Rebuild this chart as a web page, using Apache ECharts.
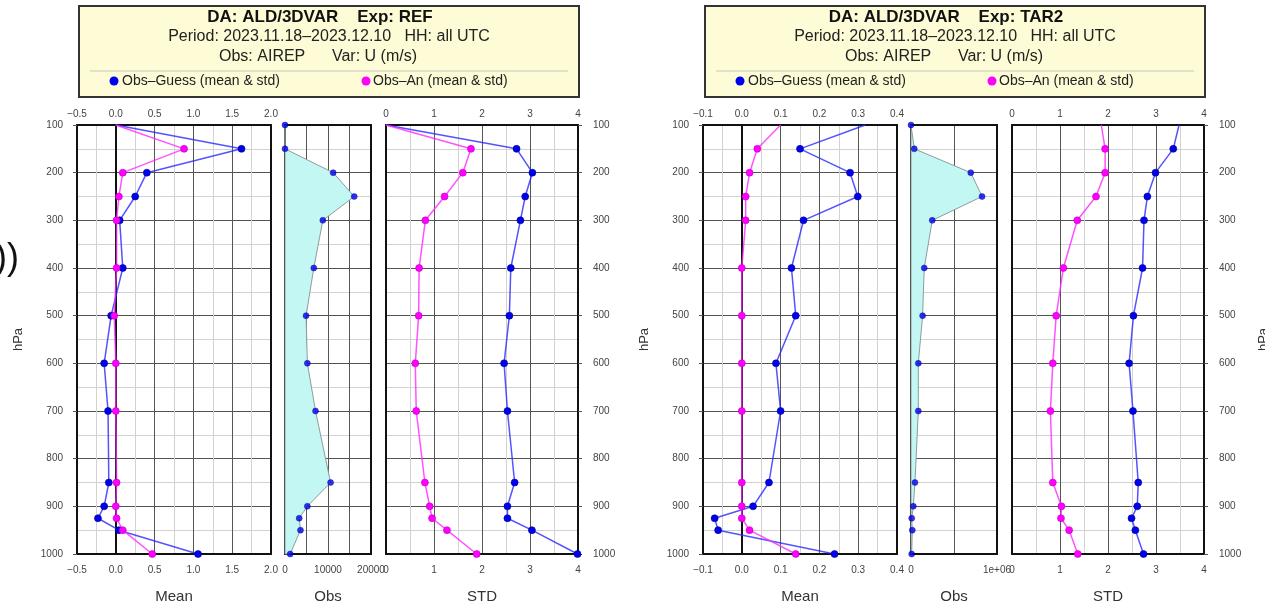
<!DOCTYPE html>
<html>
<head>
<meta charset="utf-8">
<script src="https://cdn.jsdelivr.net/npm/echarts@6/dist/echarts.min.js"></script>
<style>
  html, body { margin: 0; padding: 0; background: #ffffff; }
  #chart { width: 1265px; height: 603px; }
</style>
</head>
<body>
<div id="chart"></div>
<script>
// Pressure levels (hPa) of the vertical profiles
const levels = [100, 150, 200, 250, 300, 400, 500, 600, 700, 850, 900, 925, 950, 1000];

// Experiment REF
const refMeanGuess = [0, 1.62, 0.40, 0.25, 0.05, 0.09, -0.06, -0.15, -0.10, -0.09, -0.15, -0.23, 0.04, 1.06];
const refMeanAn    = [0, 0.88, 0.09, 0.04, 0.01, 0.01, -0.02, 0.00, 0.00, 0.01, 0.00, 0.01, 0.09, 0.47];
const refObs       = [0, 0, 11200, 16100, 8800, 6700, 4900, 5200, 7100, 10600, 5200, 3300, 3600, 1200];
const refStdGuess  = [0, 2.72, 3.05, 2.90, 2.80, 2.60, 2.57, 2.46, 2.53, 2.68, 2.53, 2.53, 3.04, 3.99];
const refStdAn     = [0, 1.77, 1.60, 1.22, 0.82, 0.69, 0.68, 0.61, 0.63, 0.81, 0.91, 0.96, 1.27, 1.89];

// Experiment TAR2
const tarMeanGuess = [0.318, 0.150, 0.279, 0.299, 0.159, 0.128, 0.139, 0.088, 0.100, 0.070, 0.029, -0.070, -0.061, 0.239];
const tarMeanAn    = [0.100, 0.040, 0.020, 0.010, 0.010, 0.000, 0.000, 0.000, 0.000, 0.000, 0.000, 0.000, 0.020, 0.139];
const tarObs       = [0, 38000, 695000, 826000, 247000, 154000, 135000, 85000, 85000, 46000, 27000, 8000, 15000, 8000];
const tarStdGuess  = [3.48, 3.36, 2.99, 2.82, 2.75, 2.72, 2.53, 2.44, 2.52, 2.63, 2.61, 2.49, 2.57, 2.74];
const tarStdAn     = [1.86, 1.94, 1.94, 1.75, 1.36, 1.07, 0.92, 0.85, 0.80, 0.85, 1.03, 1.02, 1.19, 1.37];

// Axis ranges [min, max, step]
const meanRangeRef = [-0.5, 2.0, 0.5];
const meanRangeTar = [-0.1, 0.4, 0.1];
const obsRangeRef  = [0, 20000, 5000];
const obsRangeTar  = [0, 1000000, 500000];
const stdRange     = [0, 4, 1];

const titleLines = {
  ref: ['DA: ALD/3DVAR    Exp: REF', 'Period: 2023.11.18\u20132023.12.10   HH: all UTC', 'Obs: AIREP      Var: U (m/s)'],
  tar: ['DA: ALD/3DVAR    Exp: TAR2', 'Period: 2023.11.18\u20132023.12.10   HH: all UTC', 'Obs: AIREP      Var: U (m/s)']
};
const legendNames = ['Obs\u2013Guess (mean & std)', 'Obs\u2013An (mean & std)'];

const FONT = '"Liberation Sans", Arial, Helvetica, sans-serif';
const BLUE = '#0000f0', BLUE_LINE = 'rgba(40,40,255,0.8)';
const MAG = '#ff00ff', MAG_LINE = 'rgba(255,40,255,0.8)';
const MAJOR = '#555555', MINOR = '#d2d2d2', FRAME = '#111111';
const LABEL = '#444444';

const chart = echarts.init(document.getElementById('chart'), null, { renderer: 'canvas' });

const grids = [], xAxes = [], yAxes = [], series = [];

function fmtMinus(s) { return s.replace('-', '\u2212'); }

function addPanel(opts) {
  const g = grids.length;
  grids.push({ left: opts.left, top: 125, width: opts.width, height: 429,
               containLabel: false, outerBoundsMode: 'none' });
  const [xmin, xmax, step] = opts.range;
  const xb = xAxes.length;
  xAxes.push({
    gridIndex: g, type: 'value', position: 'bottom', min: xmin, max: xmax, interval: step,
    axisLine: { show: true, onZero: false, lineStyle: { color: FRAME, width: 2 } },
    axisTick: { show: false },
    axisLabel: { show: true, formatter: opts.fmt, color: LABEL, fontSize: 10, fontFamily: FONT, margin: 11,
                 showMinLabel: true, showMaxLabel: true, hideOverlap: false },
    splitLine: { show: true, lineStyle: { color: MAJOR, width: 1 } },
    minorTick: { show: false, splitNumber: 2 },
    minorSplitLine: { show: opts.minorX !== false, lineStyle: { color: MINOR, width: 1 } },
    name: opts.name, nameLocation: 'middle', nameGap: 35,
    nameTextStyle: { fontSize: 15, color: '#333', fontFamily: FONT }
  });
  xAxes.push({
    gridIndex: g, type: 'value', position: 'top', min: xmin, max: xmax, interval: step,
    axisLine: { show: true, onZero: false, lineStyle: { color: FRAME, width: 2 } },
    axisTick: { show: false },
    axisLabel: { show: !!opts.topLabels, formatter: opts.fmt, color: LABEL, fontSize: 10, fontFamily: FONT, margin: 6,
                 showMinLabel: true, showMaxLabel: true, hideOverlap: false },
    splitLine: { show: false }
  });
  const yl = yAxes.length;
  const yBase = {
    gridIndex: g, type: 'value', inverse: true, min: 100, max: 1000, interval: 100,
    axisLine: { show: true, onZero: false, lineStyle: { color: FRAME, width: 2 } },
    axisLabel: { color: LABEL, fontSize: 10, fontFamily: FONT, margin: 14, showMinLabel: true, showMaxLabel: true,
                 formatter: v => String(v) },
    nameTextStyle: { fontSize: 13, color: '#333', fontFamily: FONT }
  };
  yAxes.push(Object.assign({}, yBase, {
    position: 'left',
    axisTick: { show: opts.ySide === 'left', length: 4, inside: false, lineStyle: { color: MAJOR } },
    axisLabel: Object.assign({}, yBase.axisLabel, { show: opts.ySide === 'left' }),
    splitLine: { show: true, lineStyle: { color: MAJOR, width: 1 } },
    minorTick: { show: false, splitNumber: 2 },
    minorSplitLine: { show: true, lineStyle: { color: MINOR, width: 1 } },
    name: opts.ySide === 'left' && opts.yName ? 'hPa' : '', nameLocation: 'middle', nameGap: 52, nameRotate: 90
  }));
  yAxes.push(Object.assign({}, yBase, {
    position: 'right',
    axisTick: { show: opts.ySide === 'right', length: 4, inside: false, lineStyle: { color: MAJOR } },
    axisLabel: Object.assign({}, yBase.axisLabel, { show: opts.ySide === 'right', margin: 15 }),
    splitLine: { show: false },
    name: opts.ySide === 'right' && opts.yName ? 'hPa' : '', nameLocation: 'middle', nameGap: 53, nameRotate: 90
  }));
  return { x: xb, y: yl };
}

function pairs(xs, hideFirst) {
  return xs.map((v, i) => {
    const item = { value: [v, levels[i]] };
    if (hideFirst && i === 0) item.symbol = 'none';
    return item;
  });
}

function profile(ax, xs, color, lineColor, zeroLine) {
  const s = {
    type: 'line', xAxisIndex: ax.x, yAxisIndex: ax.y, data: pairs(xs, true),
    symbol: 'circle', symbolSize: 7, showSymbol: true, animation: false, clip: false, z: 5,
    lineStyle: { color: lineColor, width: 1.5 },
    itemStyle: { color: color, borderColor: color === BLUE ? '#00008a' : '#c000c0', borderWidth: 0.6 }
  };
  if (zeroLine) {
    s.markLine = {
      silent: true, symbol: 'none', animation: false,
      label: { show: false },
      lineStyle: { color: FRAME, width: 2, type: 'solid' },
      data: [{ xAxis: 0 }]
    };
  }
  series.push(s);
}

function obsProfile(ax, xs) {
  const pts = xs.map((v, i) => [v, levels[i]]);
  series.push({
    type: 'custom', xAxisIndex: ax.x, yAxisIndex: ax.y, data: pts, animation: false, z: 3,
    renderItem: function (params, api) {
      if (params.dataIndex !== 0) return null;
      const poly = pts.map(p => api.coord(p));
      poly.push(api.coord([0, levels[levels.length - 1]]));
      poly.push(api.coord([0, levels[0]]));
      return {
        type: 'polygon', shape: { points: poly },
        style: { fill: '#c3f7f4', stroke: '#8e9c9c', lineWidth: 1 }
      };
    }
  });
  series.push({
    type: 'scatter', xAxisIndex: ax.x, yAxisIndex: ax.y, data: pts, symbolSize: 6, animation: false, z: 6,
    itemStyle: { color: BLUE, borderColor: '#00008a', borderWidth: 0.5 }
  });
}

function buildPlot(dx, d, yNameLeft, yNameRight) {
  const mean = addPanel({ left: 77 + dx, width: 194, range: d.meanRange, fmt: v => fmtMinus(v.toFixed(1)),
                          name: 'Mean', topLabels: true, ySide: 'left', yName: yNameLeft });
  const obs = addPanel({ left: 285 + dx, width: 86, range: d.obsRange, fmt: d.obsFmt,
                         name: 'Obs', topLabels: false, ySide: 'none', minorX: false });
  const std = addPanel({ left: 386 + dx, width: 192, range: stdRange, fmt: v => String(v),
                         name: 'STD', topLabels: true, ySide: 'right', yName: yNameRight });
  profile(mean, d.meanGuess, BLUE, BLUE_LINE, true);
  profile(mean, d.meanAn, MAG, MAG_LINE, false);
  obsProfile(obs, d.obs);
  profile(std, d.stdGuess, BLUE, BLUE_LINE, false);
  profile(std, d.stdAn, MAG, MAG_LINE, false);
}

buildPlot(0, {
  meanRange: meanRangeRef, obsRange: obsRangeRef,
  obsFmt: v => (v % 10000 === 0 ? String(v) : ''),
  meanGuess: refMeanGuess, meanAn: refMeanAn, obs: refObs, stdGuess: refStdGuess, stdAn: refStdAn
}, true, false);

buildPlot(626, {
  meanRange: meanRangeTar, obsRange: obsRangeTar,
  obsFmt: v => (v === 0 ? '0' : v === 1000000 ? '1e+06' : ''),
  meanGuess: tarMeanGuess, meanAn: tarMeanAn, obs: tarObs, stdGuess: tarStdGuess, stdAn: tarStdAn
}, true, true);

// Header boxes with run description and legend
function header(dx, lines) {
  const cx = 329 + dx;
  return [
    { type: 'rect', shape: { x: 79 + dx, y: 6, width: 500, height: 91 },
      style: { fill: '#fdfcd6', stroke: '#333333', lineWidth: 2 }, z: 10 },
    { type: 'text', x: cx - 9, y: 17, style: { text: lines[0], font: 'bold 17px ' + FONT, fill: '#111',
      textAlign: 'center', textVerticalAlign: 'middle' }, z: 11 },
    { type: 'text', x: cx, y: 37, style: { text: lines[1], font: '16px ' + FONT, fill: '#222',
      textAlign: 'center', textVerticalAlign: 'middle' }, z: 11 },
    { type: 'text', x: cx - 11, y: 57, style: { text: lines[2], font: '16px ' + FONT, fill: '#222',
      textAlign: 'center', textVerticalAlign: 'middle' }, z: 11 },
    { type: 'line', shape: { x1: 90 + dx, y1: 71, x2: 568 + dx, y2: 71 },
      style: { stroke: '#d8d8c4', lineWidth: 1.5 }, z: 11 },
    { type: 'circle', shape: { cx: 114 + dx, cy: 81, r: 4.5 }, style: { fill: BLUE }, z: 11 },
    { type: 'text', x: 122 + dx, y: 81, style: { text: legendNames[0], font: '14px ' + FONT, fill: '#222',
      textAlign: 'left', textVerticalAlign: 'middle' }, z: 11 },
    { type: 'circle', shape: { cx: 366 + dx, cy: 81, r: 4.5 }, style: { fill: MAG }, z: 11 },
    { type: 'text', x: 373 + dx, y: 81, style: { text: legendNames[1], font: '14px ' + FONT, fill: '#222',
      textAlign: 'left', textVerticalAlign: 'middle' }, z: 11 }
  ];
}

const graphics = [].concat(header(0, titleLines.ref), header(626, titleLines.tar), [
  { type: 'text', x: 19, y: 259, style: { text: '))', font: '36px ' + FONT, fill: '#111',
    textAlign: 'right', textVerticalAlign: 'middle' }, z: 11 }
]);

chart.setOption({
  animation: false,
  backgroundColor: '#ffffff',
  textStyle: { fontFamily: FONT },
  grid: grids,
  xAxis: xAxes,
  yAxis: yAxes,
  series: series,
  graphic: graphics
});
</script>
</body>
</html>
